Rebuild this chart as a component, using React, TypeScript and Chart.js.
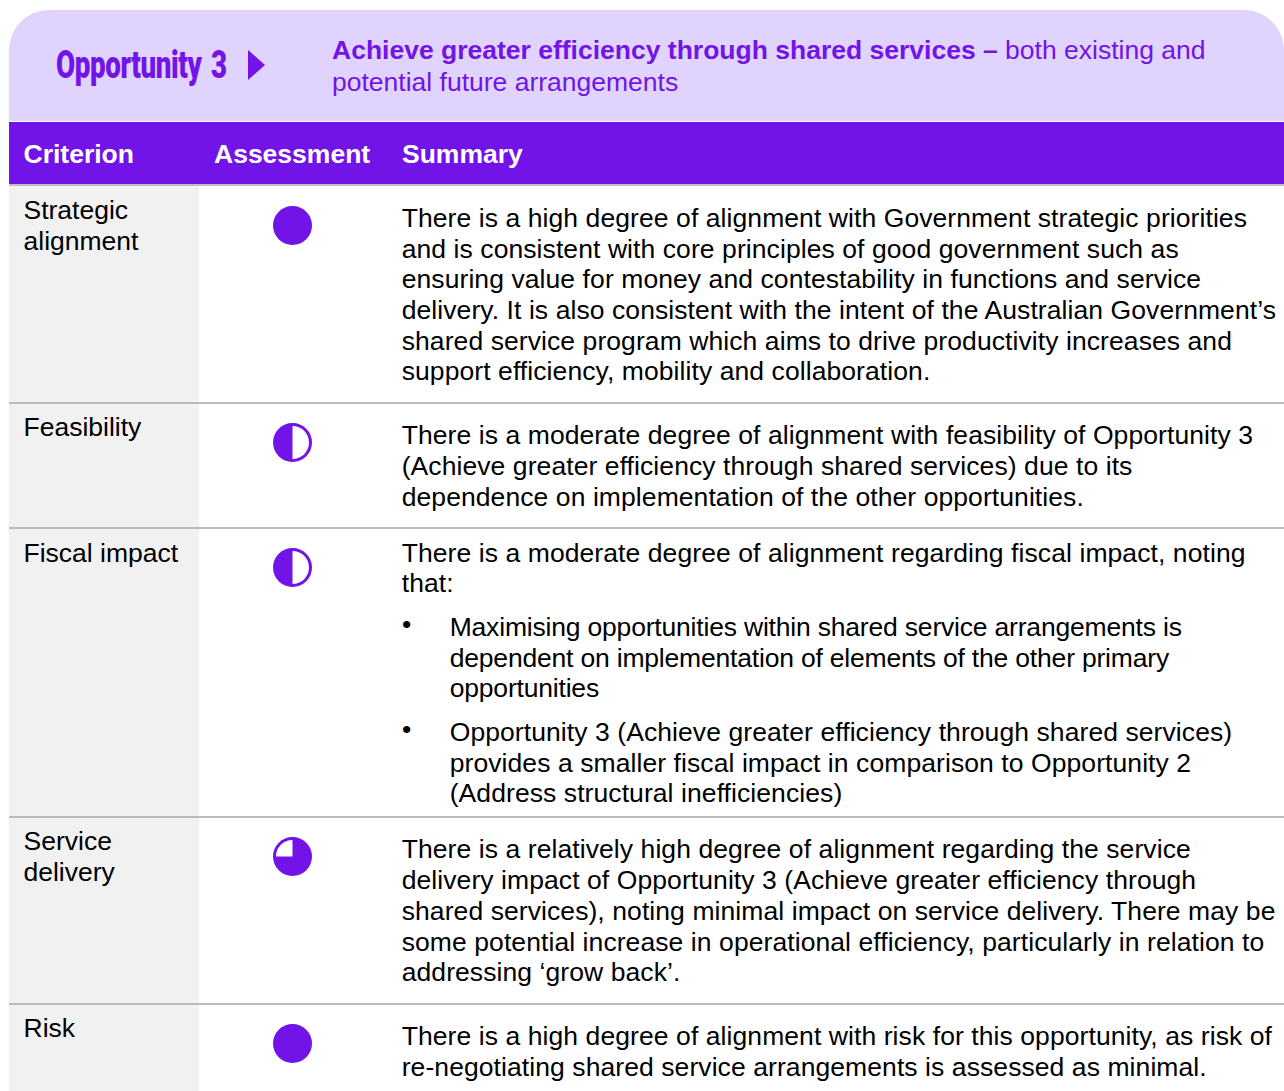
import React, { useEffect, useRef } from "react";
import { Chart, registerables } from "chart.js";
Chart.register(...registerables);

const FONT = '"Liberation Sans", Arial, sans-serif';
const PURPLE = "#7213e8";
const SIZE = 39;
const RING = 3;

const criteria = ["Strategic\nalignment", "Feasibility", "Fiscal impact", "Service\ndelivery", "Risk"];
// Filled share of each Harvey ball, in quarters
const filled = [4, 2, 2, 3, 4];
const empty = filled.map((v) => 4 - v);
const ballRotation = [0, 180, 180, 0, 0];
const rowTops = [186, 404, 529, 818, 1005];
const rowBottoms = [402, 527, 816, 1003, 1092];
const labelTops = [195, 412, 538, 826, 1013];
const ballCentres = [225, 442, 567, 856, 1043];

type Block = { text: string; top: number; left: number; bullet?: number; spacing?: number };
const summaries: Block[] = [
  { top: 202.8, left: 402, text: "There is a high degree of alignment with Government strategic priorities\nand is consistent with core principles of good government such as\nensuring value for money and contestability in functions and service\ndelivery. It is also consistent with the intent of the Australian Government’s\nshared service program which aims to drive productivity increases and\nsupport efficiency, mobility and collaboration." },
  { top: 420.3, left: 402, text: "There is a moderate degree of alignment with feasibility of Opportunity 3\n(Achieve greater efficiency through shared services) due to its\ndependence on implementation of the other opportunities." },
  { top: 537.6, left: 402, text: "There is a moderate degree of alignment regarding fiscal impact, noting\nthat:" },
  { top: 612, left: 450, bullet: 402, spacing: -0.19, text: "Maximising opportunities within shared service arrangements is\ndependent on implementation of elements of the other primary\nopportunities" },
  { top: 717, left: 450, bullet: 402, text: "Opportunity 3 (Achieve greater efficiency through shared services)\nprovides a smaller fiscal impact in comparison to Opportunity 2\n(Address structural inefficiencies)" },
  { top: 834.4, left: 402, text: "There is a relatively high degree of alignment regarding the service\ndelivery impact of Opportunity 3 (Achieve greater efficiency through\nshared services), noting minimal impact on service delivery. There may be\nsome potential increase in operational efficiency, particularly in relation to\naddressing ‘grow back’." },
  { top: 1021, left: 402, text: "There is a high degree of alignment with risk for this opportunity, as risk of\nre-negotiating shared service arrangements is assessed as minimal." },
];

function Ball({ index }: { index: number }) {
  const ref = useRef<HTMLCanvasElement>(null);
  useEffect(() => {
    const chart = new Chart(ref.current!, {
      type: "pie",
      data: {
        labels: ["Met", "Not met"],
        datasets: [{
          data: [filled[index], empty[index]],
          backgroundColor: [PURPLE, "#ffffff"],
          borderWidth: 0,
        }],
      },
      options: {
        animation: false,
        responsive: false,
        rotation: ballRotation[index],
        layout: { padding: 0 },
        plugins: { legend: { display: false }, tooltip: { enabled: false } },
      },
    });
    return () => chart.destroy();
  }, [index]);
  return (
    <div style={{ position: "absolute", left: 273, top: ballCentres[index] - SIZE / 2, width: SIZE, height: SIZE, borderRadius: "50%", background: PURPLE }}>
      <canvas ref={ref} width={SIZE - 2 * RING} height={SIZE - 2 * RING} style={{ display: "block", position: "absolute", left: RING, top: RING }} />
    </div>
  );
}

const abs = (left: number, top: number, extra: React.CSSProperties = {}): React.CSSProperties => ({ position: "absolute", left, top, whiteSpace: "pre", ...extra });

export default function App() {
  return (
    <div style={{ position: "absolute", left: 0, top: 0, width: 1284, height: 1091, overflow: "hidden", background: "#fff", fontFamily: FONT, color: "#000" }}>
      <div style={{ position: "absolute", left: 9, top: 10, width: 1275, height: 111, background: "#e0d4fe", borderRadius: "40px 40px 0 0" }} />
      <div style={abs(56, 42, { fontFamily: '"Roboto", sans-serif', fontWeight: 900, fontSize: 38, lineHeight: "46px", color: PURPLE, transform: "scaleX(0.73)", transformOrigin: "left top", letterSpacing: -0.5, wordSpacing: 4 })}>Opportunity 3</div>
      <div style={{ position: "absolute", left: 248, top: 50, width: 0, height: 0, borderTop: "15px solid transparent", borderBottom: "15px solid transparent", borderLeft: `17px solid ${PURPLE}` }} />
      <div style={abs(332, 34, { fontSize: 26.5, lineHeight: "32px", color: PURPLE })}>
        <b>Achieve greater efficiency through shared services – </b>both existing and{"\n"}potential future arrangements
      </div>
      <div style={{ position: "absolute", left: 9, top: 122, width: 1275, height: 62, background: PURPLE }} />
      <div style={{ position: "absolute", left: 9, top: 184, width: 1275, height: 2, background: "#bfbfbf" }} />
      <div style={abs(23.5, 138, { fontSize: 26.5, lineHeight: "32px", fontWeight: 700, color: "#fff" })}>Criterion</div>
      <div style={abs(214, 138, { fontSize: 26.5, lineHeight: "32px", fontWeight: 700, color: "#fff" })}>Assessment</div>
      <div style={abs(402, 138, { fontSize: 26.5, lineHeight: "32px", fontWeight: 700, color: "#fff" })}>Summary</div>
      {criteria.map((c, i) => (
        <React.Fragment key={c}>
          <div style={{ position: "absolute", left: 9, top: rowTops[i], width: 190, height: rowBottoms[i] - rowTops[i], background: "#f1f1f1" }} />
          <div style={{ position: "absolute", left: 9, top: rowBottoms[i], width: 1275, height: 2, background: "#bbbbbb" }} />
          <div style={abs(23.5, labelTops[i], { fontSize: 26.5, lineHeight: "31px" })}>{c}</div>
          <Ball index={i} />
        </React.Fragment>
      ))}
      {summaries.map((s) => (
        <React.Fragment key={s.top}>
          {s.bullet !== undefined && <div style={abs(s.bullet, s.top - 3, { fontSize: 26.5, lineHeight: "31px" })}>•</div>}
          <div style={abs(s.left - 0.3, s.top, { fontSize: 26.5, lineHeight: "30.7px", letterSpacing: s.spacing ?? 0.08 })}>{s.text}</div>
        </React.Fragment>
      ))}
    </div>
  );
}
